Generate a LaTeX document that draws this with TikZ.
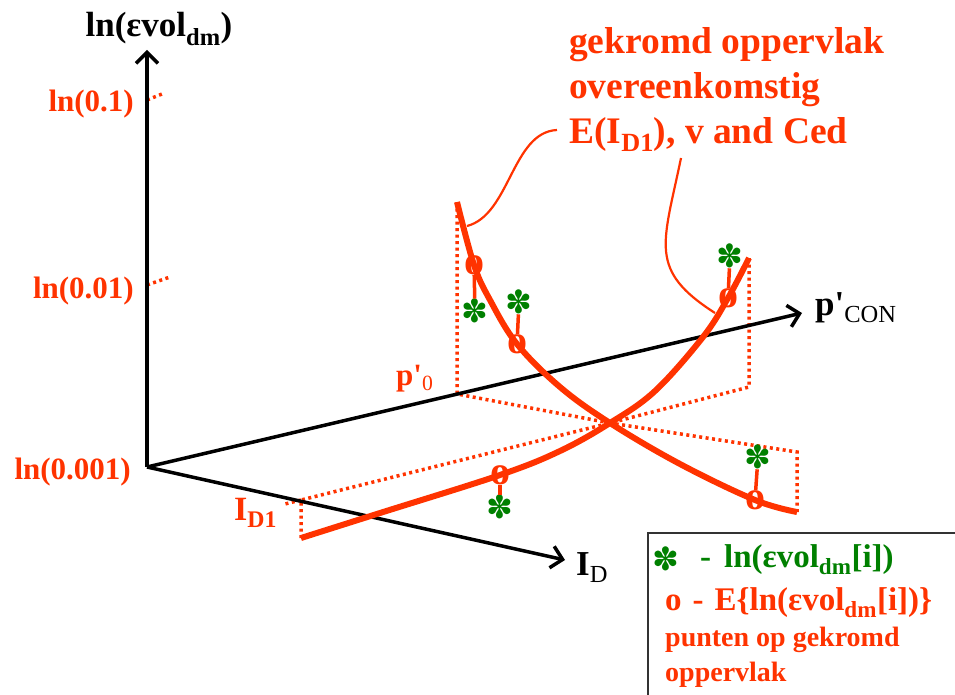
\documentclass[tikz,border=0pt]{standalone}
\usepackage{fontspec}
\setmainfont{Liberation Serif}
\newfontfamily\symfont{DejaVu Sans}
\usetikzlibrary{positioning, arrows.meta, calc}
\definecolor{surfred}{RGB}{255,51,0}
\definecolor{ptgreen}{RGB}{0,128,0}

\begin{document}
\begin{tikzpicture}[
    x=1pt, y=-1pt,
    axis/.style={
        line width=3.5pt,
        -{Straight Barb[length=11pt, width=22pt]}
    },
    surface/.style={surfred, line width=6pt},
    proj/.style={surfred, line width=3.5pt, dash pattern=on 3pt off 3.5pt},
    calloutline/.style={surfred, line width=2.2pt},
    link/.style={surfred, line width=3.5pt},
    omark/.style={
        inner sep=0pt,
        text=surfred,
        font=\fontsize{40}{40}\selectfont\bfseries
    },
    smark/.style={
        inner sep=0pt,
        text=ptgreen,
        font=\fontsize{32}{32}\selectfont\symfont
    },
    ticklabel/.style={
        inner sep=0pt,
        anchor=base east,
        text=surfred,
        font=\fontsize{31}{31}\selectfont\bfseries
    },
    axlabel/.style={
        inner sep=0pt,
        font=\fontsize{35}{35}\selectfont\bfseries
    }
]
    \useasboundingbox (0,0) rectangle (955,695);

    % Axes
    \coordinate (O) at (147,467);
    \coordinate (ytip) at (147,50);
    \coordinate (ptip) at (802,313);
    \coordinate (itip) at (565,560);

    % Points of the two curves
    \coordinate (Atop) at (457,202);
    \coordinate (mA1) at (474,265);
    \coordinate (mA2) at (517,344);
    \coordinate (mA3) at (755,500);
    \coordinate (Aend) at (797,512);
    \coordinate (Bstart) at (301,538);
    \coordinate (mB1) at (500,475);
    \coordinate (mB2) at (728,298);
    \coordinate (Bend) at (749,258);
    \coordinate (cross) at (610,423);

    % Projection corners
    \coordinate (pzero) at (457,394);
    \coordinate (pfar) at (749,387);
    \coordinate (ifar) at (797,452);
    \coordinate (idone) at (301,500);

    % Dotted projections
    \draw[proj] (Atop) -- (pzero) -- (cross);
    \draw[proj] (Bend) -- (pfar) -- (cross);
    \draw[proj] (Aend) -- (ifar) -- (cross);
    \draw[proj] (Bstart) -- (idone) -- (cross);
    \draw[proj] (idone) -- (285,504);
    \draw[proj] (O |- 0,100) -- (162,94);
    \draw[proj] (O |- 0,285) -- (170,277);

    % Axes
    \draw[axis] (O) -- (ytip);
    \draw[axis] (O) -- (ptip);
    \draw[axis] (O) -- (itip);

    \node[axlabel, anchor=base] (ylab) at (159,37) {ln(εvol\textsubscript{dm})};
    \node[axlabel, anchor=base west] (plab) at (815,315) {p\textquotesingle\textsubscript{\mdseries CON}};
    \node[axlabel, anchor=base west] (ilab) at (576,575) {I\textsubscript{\mdseries D}};

    % Tick labels
    \node[ticklabel] (t1) at (134,112) {ln(0.1)};
    \node[ticklabel] (t2) at (134,298) {ln(0.01)};
    \node[ticklabel] (t3) at (131,479) {ln(0.001)};
    \node[ticklabel, anchor=base west] (pzlab) at (396,385) {p\textquotesingle\textsubscript{\mdseries 0}};
    \node[ticklabel, anchor=base west, font=\fontsize{34}{34}\selectfont\bfseries] (idlab) at (234,520) {I\textsubscript{D1}};

    % Curves
    \draw[surface] plot[smooth, tension=0.6] coordinates {
        (Atop) (mA1) (490,300) (mA2) (560,387) (cross) (680,464) (mA3) (Aend)};
    \draw[surface] plot[smooth, tension=0.6] coordinates {
        (Bstart) (380,513) (mB1) (560,451) (cross) (655,391) (703,337) (mB2) (Bend)};

    % Markers
    \node[omark] (oA1) at (mA1) {o};
    \node[omark] (oA2) at (mA2) {o};
    \node[omark] (oA3) at (mA3) {o};
    \node[omark] (oB1) at (mB1) {o};
    \node[omark] (oB2) at (mB2) {o};
    \node[smark] (sA1) at (475,311) {✽};
    \node[smark] (sA2) at (519,302) {✽};
    \node[smark] (sA3) at (758,457) {✽};
    \node[smark] (sB1) at (500,507) {✽};
    \node[smark] (sB2) at (730,256) {✽};
    \draw[link] (oA1) -- (sA1);
    \draw[link] (oA2) -- (sA2);
    \draw[link] (oA3) -- (sA3);
    \draw[link] (oB1) -- (sB1);
    \draw[link] (oB2) -- (sB2);

    % Title and callouts
    \node[anchor=north west, align=left, inner sep=0pt, text=surfred,
          font=\fontsize{37.5}{45}\selectfont\bfseries] (title) at (569,27)
          {gekromd oppervlak\\overeenkomstig\\E(I\textsubscript{D1}), v and Ced};
    \coordinate (calla) at (557,130);
    \coordinate (callb) at (681,158);
    \coordinate (hitA) at (467,226);
    \coordinate (hitB) at (715,313);
    \draw[calloutline] (calla) .. controls (512,132) and (510,215) .. (hitA);
    \draw[calloutline] (callb) .. controls (663,245) and (648,270) .. (hitB);

    % Legend
    \draw[line width=2.5pt, black!80] (648,533) rectangle (962,702);
    \node[smark] (legstar) at (666,559) {✽};
    \node[anchor=base west, inner sep=0pt, text=ptgreen,
          font=\fontsize{33}{33}\selectfont\bfseries] (leg1) at (700,567)
          {-\hspace{13pt}ln(εvol\textsubscript{dm}[i])};
    \node[anchor=base west, inner sep=0pt, text=surfred,
          font=\fontsize{33}{33}\selectfont\bfseries] (leg2) at (665,610)
          {o\hspace{11pt}-\hspace{11pt}E\{ln(εvol\textsubscript{dm}[i])\}};
    \node[anchor=north west, align=left, inner sep=0pt, text=surfred,
          font=\fontsize{28}{35}\selectfont\bfseries] (leg3) at (665,627)
          {punten op gekromd\\oppervlak};
\end{tikzpicture}
\end{document}
